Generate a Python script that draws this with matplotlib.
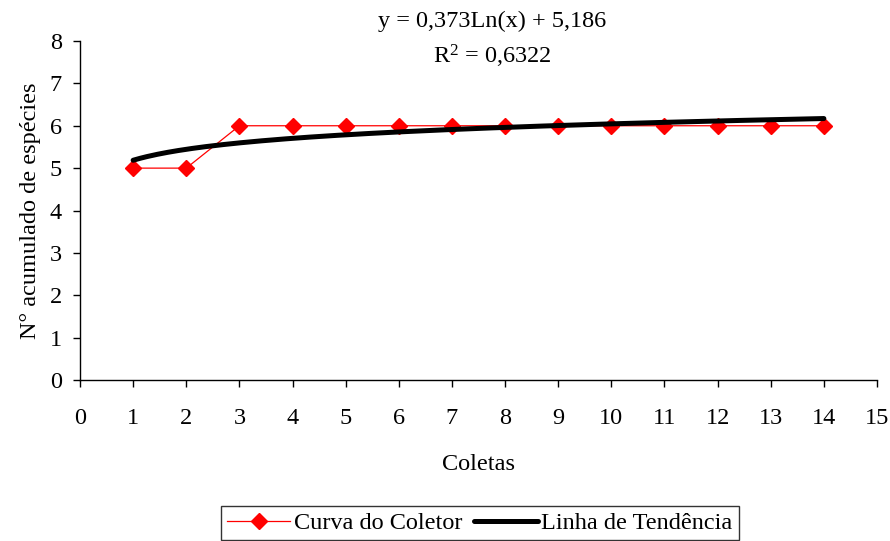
import numpy as np
import matplotlib.pyplot as plt

plt.rcParams['font.family'] = ['Liberation Serif', 'DejaVu Serif']
plt.rcParams['mathtext.fontset'] = 'custom'
plt.rcParams['mathtext.rm'] = 'Liberation Serif'

# Curva do coletor
coletas = [1, 2, 3, 4, 5, 6, 7, 8, 9, 10, 11, 12, 13, 14]
especies = [5, 5, 6, 6, 6, 6, 6, 6, 6, 6, 6, 6, 6, 6]

# Linha de tendência logarítmica
coef_a = 0.373
coef_b = 5.186
xt = np.linspace(1, 14, 200)
yt = coef_a * np.log(xt) + coef_b

fs = 17.5

fig = plt.figure(figsize=(8.9, 5.41), dpi=100)
ax = fig.add_axes([0.0899, 0.2976, 0.8955, 0.6266])

ax.plot(coletas, especies, color='red', lw=0.9, marker='D', markersize=8,
        markerfacecolor='red', markeredgecolor='red', label='Curva do Coletor')
ax.plot(xt, yt, color='black', lw=3.6, solid_capstyle='round', label='Linha de Tendência')

ax.set_xlim(0, 15)
ax.set_ylim(0, 8)
ax.set_xticks(range(0, 16))
ax.set_yticks(range(0, 9))
ax.spines['top'].set_visible(False)
ax.spines['right'].set_visible(False)
ax.spines['left'].set_linewidth(1)
ax.spines['bottom'].set_linewidth(1)
ax.tick_params(direction='out', length=5, width=1, labelsize=fs)
ax.tick_params(axis='x', pad=15)
ax.tick_params(axis='y', pad=8)

ax.set_xlabel('Coletas', fontsize=fs, labelpad=18)
ax.set_ylabel('N° acumulado de espécies', fontsize=fs, labelpad=6)

fig.text(0.553, 0.961, 'y = 0,373Ln(x) + 5,186', ha='center', va='center', fontsize=fs)
fig.text(0.553, 0.896, r'$\mathregular{R^2}$ = 0,6322', ha='center', va='center', fontsize=fs)

leg = fig.legend(loc='center', bbox_to_anchor=(0.539, 0.033), ncol=2, fontsize=fs,
                 frameon=True, fancybox=False, edgecolor='black', handlelength=2.6,
                 handletextpad=0.15, columnspacing=0.5, borderpad=0.25)
leg.get_frame().set_linewidth(1)

fig.savefig('out.png', dpi=100)
